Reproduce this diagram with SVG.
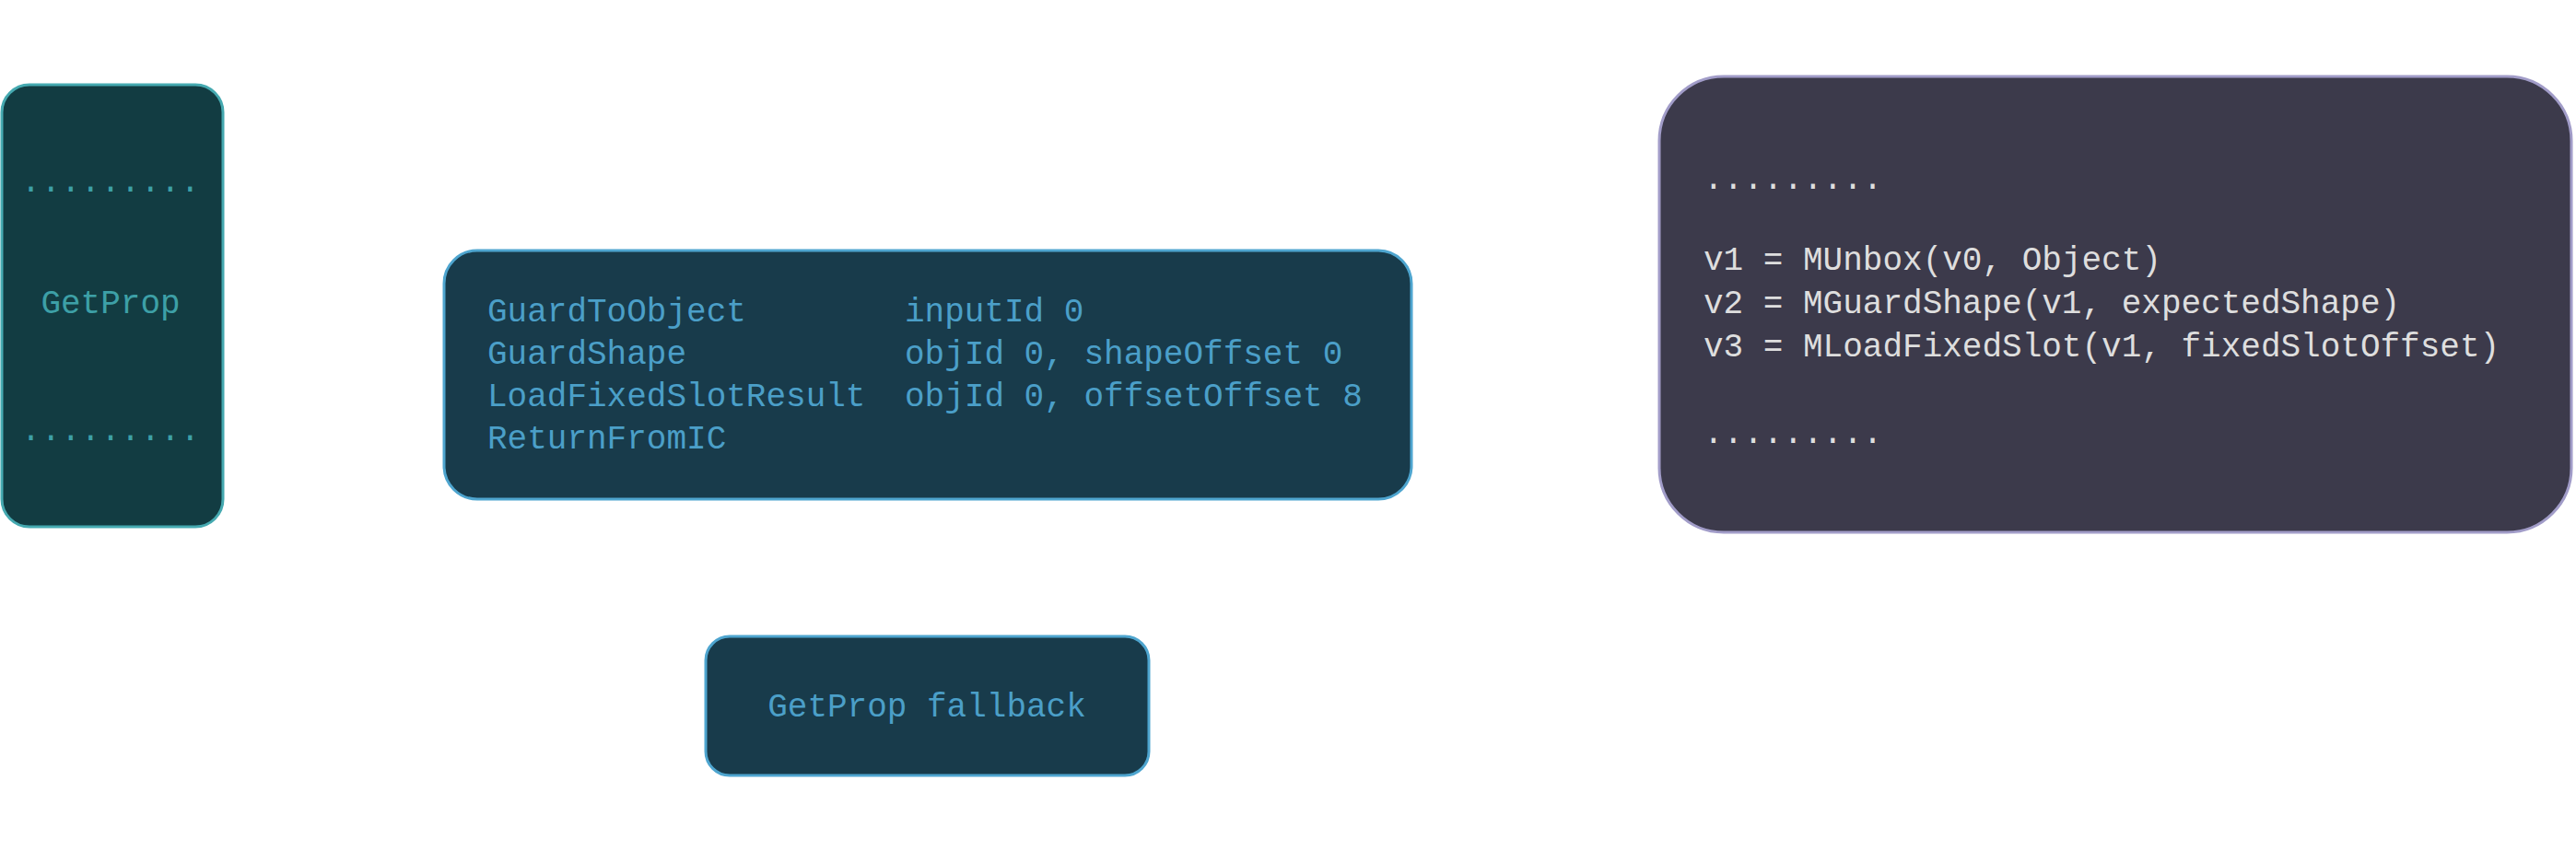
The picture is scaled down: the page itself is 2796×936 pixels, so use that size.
<svg xmlns="http://www.w3.org/2000/svg" width="2796" height="936" viewBox="0 0 2796 936">
<style>
.mono{font-family:"Liberation Mono","Courier New",monospace;font-size:36px;white-space:pre}
.teal-box{fill:#123c42;stroke:#45a9b0;stroke-width:3}
.teal-txt{fill:#3da0a7}
.blue-box{fill:#183b4b;stroke:#4ea5cf;stroke-width:3}
.blue-txt{fill:#4b9fc8}
.mir-box{fill:#3c3a4b;stroke:#a19cc8;stroke-width:3}
.mir-txt{fill:#dedede}
.conn{fill:none;stroke:#ffffff;stroke-width:2}
</style>
<rect width="2796" height="936" fill="#ffffff"/>
<g id="connectors">
<path class="conn" d="M242,210 L1801,207"/>
<path class="conn" d="M242,330 C360,330 380,407 482,407"/>
<path class="conn" d="M242,482 L1801,478"/>
<path class="conn" d="M1532,390 C1660,390 1680,480 1801,480"/>
</g>
<g id="getprop">
<rect class="teal-box" x="2" y="92" width="240" height="480" rx="30"/>
<text class="mono teal-txt" x="120" y="208" text-anchor="middle">.........</text>
<text class="mono teal-txt" x="120" y="340" text-anchor="middle">GetProp</text>
<text class="mono teal-txt" x="120" y="478" text-anchor="middle">.........</text>
</g>
<g id="cacheir">
<rect class="blue-box" x="482" y="272" width="1050" height="270" rx="36"/>
<text class="mono blue-txt" x="529" y="349">GuardToObject</text>
<text class="mono blue-txt" x="529" y="395">GuardShape</text>
<text class="mono blue-txt" x="529" y="441">LoadFixedSlotResult</text>
<text class="mono blue-txt" x="529" y="487">ReturnFromIC</text>
<text class="mono blue-txt" x="982" y="349">inputId 0</text>
<text class="mono blue-txt" x="982" y="395">objId 0, shapeOffset 0</text>
<text class="mono blue-txt" x="982" y="441">objId 0, offsetOffset 8</text>
</g>
<g id="fallback">
<rect class="blue-box" x="766" y="691" width="481" height="151" rx="26"/>
<text class="mono blue-txt" x="1006" y="778" text-anchor="middle">GetProp fallback</text>
</g>
<g id="mir">
<rect class="mir-box" x="1801" y="83" width="990" height="495" rx="70"/>
<text class="mono mir-txt" x="1849" y="205">.........</text>
<text class="mono mir-txt" x="1849" y="293">v1 = MUnbox(v0, Object)</text>
<text class="mono mir-txt" x="1849" y="340">v2 = MGuardShape(v1, expectedShape)</text>
<text class="mono mir-txt" x="1849" y="387">v3 = MLoadFixedSlot(v1, fixedSlotOffset)</text>
<text class="mono mir-txt" x="1849" y="481">.........</text>
</g>
</svg>
